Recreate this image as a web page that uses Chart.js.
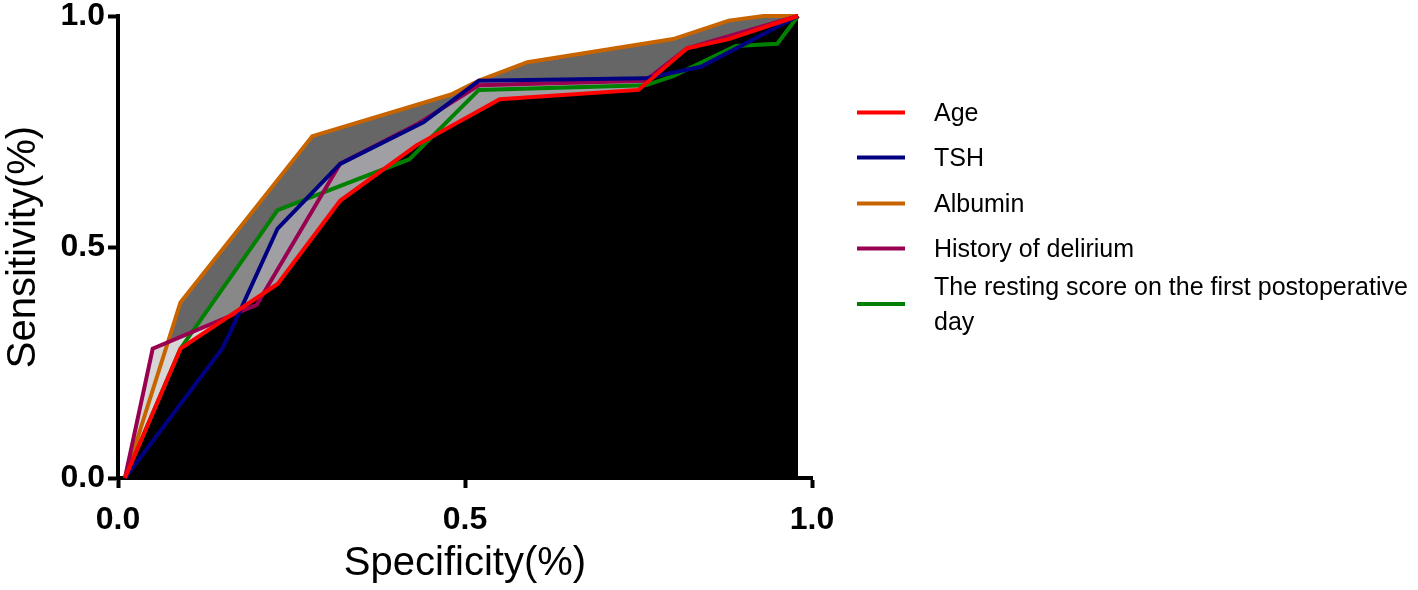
<!DOCTYPE html>
<html>
<head>
    <title>ROC curves</title>
    <script src="https://cdn.jsdelivr.net/npm/chart.js"></script>
    <style>
        body { margin: 0; background: #fff; }
        #wrap { position: relative; width: 1418px; height: 590px; overflow: hidden; }
        #legend { position: absolute; left: 0; top: 0; font-family: 'Liberation Sans', Arial, sans-serif; font-size: 25px; color: #000; }
        .item { position: absolute; left: 857px; width: 561px; display: flex; align-items: center; transform: translateY(-50%); }
        .swatch { width: 48px; height: 4px; margin-right: 29px; flex: none; }
        .label { line-height: 35px; width: 484px; flex: none; }
    </style>
</head>
<body>
    <div id="wrap">
        <canvas id="rocChart" width="1418" height="590"></canvas>
        <div id="legend"></div>
    </div>

    <script>
        // series names in legend order
        const seriesNames = ['Age', 'TSH', 'Albumin', 'History of delirium', 'The resting score on the first postoperative day'];

        // values (specificity, sensitivity)
        const ageX = [0.01, 0.09, 0.23, 0.32, 0.43, 0.55, 0.75, 0.82, 0.88, 0.98];
        const ageY = [0, 0.28, 0.42, 0.60, 0.72, 0.82, 0.84, 0.93, 0.95, 1.0];

        const tshX = [0.01, 0.15, 0.16, 0.23, 0.32, 0.44, 0.52, 0.76, 0.84, 0.98];
        const tshY = [0, 0.28, 0.31, 0.54, 0.68, 0.77, 0.86, 0.865, 0.89, 1.0];

        const albuminX = [0.01, 0.09, 0.28, 0.48, 0.52, 0.59, 0.80, 0.88, 0.93, 0.98];
        const albuminY = [0, 0.38, 0.74, 0.83, 0.86, 0.90, 0.95, 0.99, 1.0, 1.0];

        const historyX = [0.01, 0.05, 0.20, 0.32, 0.43, 0.52, 0.76, 0.82, 0.98];
        const historyY = [0, 0.28, 0.375, 0.68, 0.765, 0.85, 0.86, 0.93, 1.0];

        const restingX = [0.01, 0.09, 0.23, 0.42, 0.52, 0.76, 0.80, 0.89, 0.95, 0.98];
        const restingY = [0, 0.28, 0.58, 0.69, 0.84, 0.85, 0.87, 0.935, 0.94, 1.0];

        const tickValues = [0, 0.5, 1.0];

        const lineColors = ['#ff0000', '#000080', '#c86400', '#990050', '#008000'];
        const fillColors = ['#000000', '#a0a0a4', '#666666', '#d6d6d6', '#888888'];
        // lower = drawn on top
        const drawOrder = [0, 1, 4, 2, 3];
        const legendCenters = [112, 157, 203, 248, 304];

        function points(xs, ys) {
            return xs.map((x, i) => ({ x: x, y: ys[i] }));
        }

        const allX = [ageX, tshX, albuminX, historyX, restingX];
        const allY = [ageY, tshY, albuminY, historyY, restingY];

        const datasets = seriesNames.map((name, i) => ({
            label: name,
            data: points(allX[i], allY[i]),
            borderColor: lineColors[i],
            backgroundColor: fillColors[i],
            borderWidth: 4,
            fill: 'origin',
            order: drawOrder[i],
            pointRadius: 0,
            tension: 0,
            clip: false
        }));

        const tickFont = { family: "'Liberation Sans Narrow', 'Liberation Sans', Arial", size: 32, weight: 'bold' };
        const titleFont = { family: "'Liberation Sans', Arial", size: 40 };

        function setTicks(scale) {
            scale.ticks = tickValues.map(v => ({ value: v }));
        }

        new Chart(document.getElementById('rocChart'), {
            type: 'line',
            data: { datasets: datasets },
            options: {
                responsive: false,
                animation: false,
                layout: { padding: { top: 16, right: 606, left: 0, bottom: 0 } },
                plugins: {
                    legend: { display: false },
                    tooltip: { enabled: false },
                    filler: { drawTime: 'beforeDatasetsDraw' }
                },
                scales: {
                    x: {
                        type: 'linear',
                        min: 0,
                        max: 1,
                        afterBuildTicks: setTicks,
                        afterFit: s => { s.height = 112; s.paddingLeft = 0; s.paddingRight = 0; },
                        grid: { drawOnChartArea: false, drawTicks: true, tickLength: 10, tickWidth: 4, color: '#000' },
                        border: { color: '#000', width: 4 },
                        ticks: { font: tickFont, color: '#000', padding: 13, maxRotation: 0, callback: v => v.toFixed(1) },
                        title: { display: true, text: 'Specificity(%)', font: titleFont, color: '#000', padding: 2 }
                    },
                    y: {
                        type: 'linear',
                        min: 0,
                        max: 1,
                        afterBuildTicks: setTicks,
                        afterFit: s => { s.width = 118; s.paddingTop = 0; s.paddingBottom = 0; },
                        grid: { drawOnChartArea: false, drawTicks: true, tickLength: 10, tickWidth: 4, color: '#000' },
                        border: { color: '#000', width: 4 },
                        ticks: { font: tickFont, color: '#000', padding: 3, callback: v => v.toFixed(1) },
                        title: { display: true, text: 'Sensitivity(%)', font: titleFont, color: '#000', padding: 0 }
                    }
                }
            }
        });

        const legend = document.getElementById('legend');
        seriesNames.forEach((name, i) => {
            const item = document.createElement('div');
            item.className = 'item';
            item.style.top = legendCenters[i] + 'px';
            const sw = document.createElement('span');
            sw.className = 'swatch';
            sw.style.background = lineColors[i];
            const lab = document.createElement('span');
            lab.className = 'label';
            lab.textContent = name;
            item.appendChild(sw);
            item.appendChild(lab);
            legend.appendChild(item);
        });
    </script>
</body>
</html>
